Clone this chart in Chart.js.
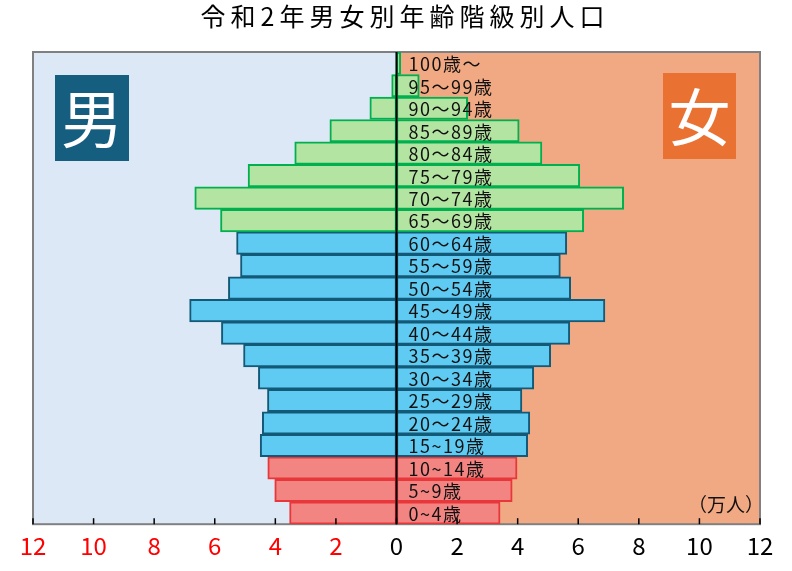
<!DOCTYPE html>
<html>
<head>
<meta charset="utf-8">
<script src="https://cdn.jsdelivr.net/npm/chart.js@4/dist/chart.umd.min.js"></script>
<style>
  html, body { margin: 0; padding: 0; background: #fff; }
  #wrap { width: 792px; height: 571px; }
</style>
</head>
<body>
<div id="wrap"><canvas id="pyramid"></canvas></div>
<script>
// 年齢階級（下から上）
const ageGroups = ['0~4歳', '5~9歳', '10~14歳', '15~19歳', '20～24歳', '25～29歳', '30～34歳',
  '35～39歳', '40～44歳', '45～49歳', '50～54歳', '55～59歳', '60～64歳', '65～69歳',
  '70～74歳', '75～79歳', '80～84歳', '85～89歳', '90～94歳', '95～99歳', '100歳～'];
// 男女別人口（万人）
const male = [3.53, 4.02, 4.25, 4.50, 4.43, 4.26, 4.56, 5.05, 5.78, 6.83, 5.55,
  5.15, 5.28, 5.81, 6.66, 4.90, 3.36, 2.20, 0.88, 0.16, 0.02];
const female = [3.42, 3.82, 3.98, 4.33, 4.40, 4.14, 4.53, 5.09, 5.72, 6.88, 5.75,
  5.41, 5.62, 6.18, 7.50, 6.05, 4.80, 4.05, 2.35, 0.75, 0.14];
const xTicks = [-12, -10, -8, -6, -4, -2, 0, 2, 4, 6, 8, 10, 12];

const titleText = '令和2年男女別年齢階級別人口';
const unitText = '（万人）';
const jpFont = '"Noto Sans CJK JP", "Noto Sans", sans-serif';

// 年齢帯ごとの色 (年少・生産年齢・老年)
function fillFor(i) {
  if (i < 3) return '#f28482';
  if (i < 13) return '#5fcaf2';
  return '#b4e4a2';
}
function lineFor(i) {
  if (i < 3) return '#e8373a';
  if (i < 13) return '#135a78';
  return '#00b04f';
}
const fills = ageGroups.map((a, i) => fillFor(i));
const lines = ageGroups.map((a, i) => lineFor(i));

// backgrounds, frame, centre line, labels
const decor = {
  id: 'decor',
  beforeDatasetsDraw(chart) {
    const { ctx, chartArea: a, scales: { x } } = chart;
    const x0 = x.getPixelForValue(0);
    ctx.save();
    ctx.fillStyle = '#dce8f6';
    ctx.fillRect(a.left, a.top, x0 - a.left, a.bottom - a.top);
    ctx.fillStyle = '#f1a983';
    ctx.fillRect(x0, a.top, a.right - x0, a.bottom - a.top);

    // 男 / 女 boxes
    ctx.fillStyle = '#165e80';
    ctx.fillRect(55, 75, 74, 86);
    ctx.fillStyle = '#e97233';
    ctx.fillRect(663, 73, 73, 86);
    ctx.fillStyle = '#fff';
    ctx.font = '62px ' + jpFont;
    ctx.textAlign = 'center';
    ctx.textBaseline = 'middle';
    ctx.fillText('男', 92, 119);
    ctx.fillText('女', 699.5, 117);

    // frame
    ctx.strokeStyle = '#808080';
    ctx.lineWidth = 2;
    ctx.strokeRect(a.left, a.top, a.right - a.left, a.bottom - a.top);
    ctx.restore();
  },
  afterDatasetsDraw(chart) {
    const { ctx, chartArea: a, scales: { x, y } } = chart;
    const x0 = x.getPixelForValue(0);
    ctx.save();
    // centre line
    ctx.strokeStyle = '#000';
    ctx.lineWidth = 2;
    ctx.beginPath();
    ctx.moveTo(x0, a.top);
    ctx.lineTo(x0, a.bottom);
    ctx.stroke();

    // inward tick marks
    ctx.lineWidth = 1.5;
    x.ticks.forEach((t, i) => {
      const px = x.getPixelForTick(i);
      ctx.beginPath();
      ctx.moveTo(px, a.bottom);
      ctx.lineTo(px, a.bottom - 6);
      ctx.stroke();
    });

    // age labels
    ctx.fillStyle = '#111';
    ctx.font = '18px ' + jpFont;
    ctx.letterSpacing = '1.5px';
    ctx.textAlign = 'left';
    ctx.textBaseline = 'middle';
    ageGroups.forEach((lab, i) => {
      ctx.fillText(lab, x0 + 12, y.getPixelForValue(i) + 1);
    });

    // unit
    ctx.letterSpacing = '0px';
    ctx.font = '19px ' + jpFont;
    ctx.textAlign = 'right';
    ctx.fillText(unitText, a.right + 4, a.bottom - 19);

    // title
    ctx.fillStyle = '#000';
    ctx.font = '25px ' + jpFont;
    ctx.letterSpacing = '5px';
    ctx.textAlign = 'center';
    ctx.fillText(titleText, 405, 16);
    ctx.restore();
  }
};

const ctx = document.getElementById('pyramid').getContext('2d');
new Chart(ctx, {
  type: 'bar',
  data: {
    labels: ageGroups,
    datasets: [
      {
        label: '男',
        data: male.map(v => -v),
        backgroundColor: fills,
        borderColor: lines,
        borderWidth: 2,
        borderSkipped: false
      },
      {
        label: '女',
        data: female,
        backgroundColor: fills,
        borderColor: lines,
        borderWidth: 2,
        borderSkipped: false
      }
    ]
  },
  options: {
    indexAxis: 'y',
    responsive: true,
    maintainAspectRatio: false,
    animation: false,
    datasets: { bar: { barPercentage: 1, categoryPercentage: 1 } },
    layout: { padding: { left: 33, right: 32, top: 52, bottom: 4 } },
    plugins: {
      legend: { display: false },
      tooltip: { enabled: false },
      title: { display: false }
    },
    scales: {
      x: {
        type: 'linear',
        stacked: true,
        min: -12,
        max: 12,
        afterBuildTicks: scale => { scale.ticks = xTicks.map(v => ({ value: v })); },
        grid: { display: false, drawTicks: false },
        border: { display: true, color: '#000', width: 2 },
        ticks: {
          padding: 7,
          font: { family: jpFont, size: 24 },
          color: c => (c.tick && c.tick.value < 0 ? '#ff0000' : '#000'),
          callback: v => Math.abs(v)
        }
      },
      y: {
        type: 'category',
        stacked: true,
        reverse: true,
        display: false
      }
    }
  },
  plugins: [decor]
});
</script>
</body>
</html>
